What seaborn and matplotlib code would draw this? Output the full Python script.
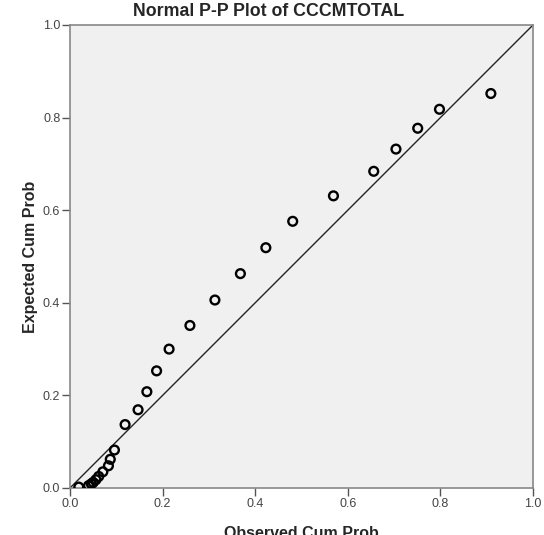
import matplotlib
matplotlib.use("Agg")
import matplotlib.pyplot as plt
import seaborn as sns
import pandas as pd

observed = [0.019, 0.040, 0.046, 0.050, 0.056, 0.062, 0.071, 0.083, 0.087, 0.096,
            0.119, 0.147, 0.166, 0.187, 0.214, 0.259, 0.313, 0.368, 0.423, 0.481,
            0.569, 0.656, 0.704, 0.751, 0.798, 0.909]
expected = [0.002, 0.005, 0.009, 0.012, 0.018, 0.025, 0.035, 0.048, 0.062, 0.082,
            0.137, 0.169, 0.208, 0.253, 0.300, 0.351, 0.406, 0.463, 0.519, 0.576,
            0.631, 0.684, 0.732, 0.777, 0.818, 0.852]
ticks = [0.0, 0.2, 0.4, 0.6, 0.8, 1.0]
tick_labels = ["0.0", "0.2", "0.4", "0.6", "0.8", "1.0"]

df = pd.DataFrame({"Observed Cum Prob": observed, "Expected Cum Prob": expected})

sns.set_theme(style="white")
plt.rcParams['font.family'] = ['Liberation Sans', 'DejaVu Sans']

fig = plt.figure(figsize=(5.44, 5.35), dpi=100)
ax = fig.add_axes([70/544, 47/535, 463/544, 463/535])
ax.set_facecolor("#F0F0F0")

ax.plot([0, 1], [0, 1], color="#222222", lw=1.0, zorder=2)
sns.scatterplot(data=df, x="Observed Cum Prob", y="Expected Cum Prob", ax=ax,
                marker="o", s=40, facecolor="none", edgecolor="black",
                linewidth=1.7, zorder=3)

ax.set_xlim(0, 1)
ax.set_ylim(0, 1)
ax.set_xticks(ticks)
ax.set_xticklabels(tick_labels)
ax.set_yticks(ticks)
ax.set_yticklabels(tick_labels)
ax.tick_params(axis="both", which="both", direction="out", length=6, width=1,
               color="#555555", labelsize=9, labelcolor="#444444", pad=1,
               bottom=True, left=True)
for s in ax.spines.values():
    s.set_color("#888888")
    s.set_linewidth(1.2)

ax.set_xlabel("Observed Cum Prob", fontsize=11.5, fontweight="bold", labelpad=12)
ax.set_ylabel("Expected Cum Prob", fontsize=11.5, fontweight="bold", labelpad=3.5)
fig.text(269/544, 1 - 11/535, "Normal P-P Plot of CCCMTOTAL", fontsize=12.8,
         fontweight="bold", ha="center", va="center")

fig.savefig("out.png", dpi=100)
